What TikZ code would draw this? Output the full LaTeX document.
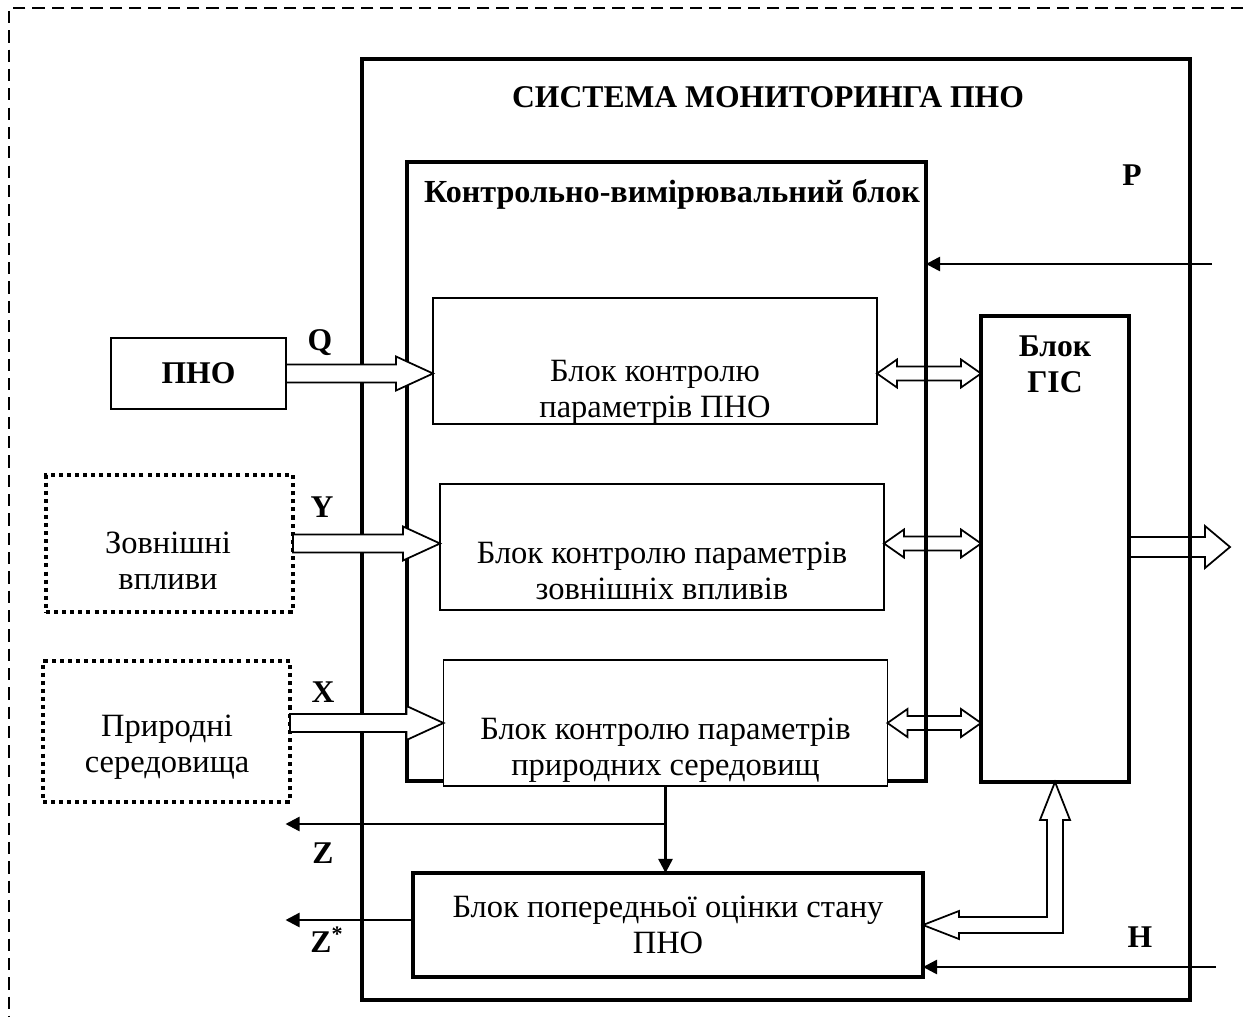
\documentclass[tikz,border=0pt]{standalone}
\usepackage{fontspec}
\setmainfont{Liberation Serif}
\usetikzlibrary{calc,arrows.meta}

% wide hollow arrow pointing right: [style]{from}{to}{head length}{head half}{shaft half}
\newcommand{\fatarrow}[6][fill=white]{%
  \draw[line width=1pt,#1] ($(#2)+(0,-#6)$) -- ($(#3)+(-#4,-#6)$) -- ($(#3)+(-#4,-#5)$) -- (#3)
    -- ($(#3)+(-#4,#5)$) -- ($(#3)+(-#4,#6)$) -- ($(#2)+(0,#6)$) -- cycle;}
% wide hollow arrow with two heads
\newcommand{\dblarrow}[5]{%
  \draw[line width=1pt] (#1) -- ($(#1)+(#3,-#4)$) -- ($(#1)+(#3,-#5)$) -- ($(#2)+(-#3,-#5)$)
    -- ($(#2)+(-#3,-#4)$) -- (#2) -- ($(#2)+(-#3,#4)$) -- ($(#2)+(-#3,#5)$)
    -- ($(#1)+(#3,#5)$) -- ($(#1)+(#3,#4)$) -- cycle;}

\begin{document}
\begin{tikzpicture}[x=0.02cm,y=-0.02cm,
  font=\fontsize{18.5}{20.5}\selectfont,
  thickbox/.style={draw,line width=2pt,inner sep=0pt,outer sep=0pt},
  thinbox/.style={draw,line width=1pt,fill=white,inner sep=0pt,outer sep=0pt},
  dotbox/.style={draw,line width=2.3pt,dash pattern=on 2.3pt off 2.3pt,inner sep=0pt,outer sep=0pt},
  sig/.style={font=\fontsize{18}{20.5}\selectfont\bfseries},
  wire/.style={line width=1.4pt,-{Triangle[length=8pt,width=8pt]}}]
  \useasboundingbox (0,0) rectangle (1243,1017);
  \draw[line width=1.1pt,dash pattern=on 7pt off 4pt] (1243,8) -- (9,8) -- (9,1017);

  % monitoring system and measuring unit
  \node[thickbox,minimum width=16.56cm,minimum height=18.82cm] (sys) at (776,529.5) {};
  \node[font=\fontsize{18}{22}\selectfont\bfseries] (systitle) at (768,97) {СИСТЕМА МОНИТОРИНГА ПНО};
  \node[thickbox,minimum width=10.38cm,minimum height=12.38cm] (kv) at (666.5,471.5) {};
  \node[font=\fontsize{18.3}{20.5}\selectfont\bfseries] (kvtitle) at (672,194) {Контрольно-вимірювальний блок};

  \foreach \n/\x/\y/\ty/\txt in {
    b1/655/361/392/{Блок контролю\\параметрів ПНО},
    b2/662/547/571/{Блок контролю параметрів\\зовнішніх впливів},
    b3/665.5/723/750/{Блок контролю параметрів\\природних середовищ}}
  {
    \node[thinbox,minimum width=8.88cm,minimum height=2.52cm] (\n) at (\x,\y) {};
    \node[align=center] (\n-t) at (\x,\ty) {\txt};
  }

  \node[thickbox,minimum width=2.96cm,minimum height=9.32cm,fill=white] (gis) at (1055,549) {};
  \node[sig,align=center] (gis-t) at (1055,364) {Блок\\ГІС};
  \node[thickbox,minimum width=10.2cm,minimum height=2.08cm,fill=white,align=center] (pre) at (668,925)
    {Блок попередньої оцінки стану\\ПНО};

  % outside objects
  \node[thinbox,minimum width=3.5cm,minimum height=1.42cm,font=\fontsize{18}{22}\selectfont\bfseries] (pno) at (198.5,373.5) {ПНО};
  \node[dotbox,minimum width=4.94cm,minimum height=2.74cm] (zv) at (169.5,543.5) {};
  \node[align=center] (zv-t) at (168,561) {Зовнішні\\впливи};
  \node[dotbox,minimum width=4.94cm,minimum height=2.82cm] (pr) at (166.5,731.5) {};
  \node[align=center] (pr-t) at (167,747) {Природні\\середовища};

  % inputs
  \coordinate (q1) at (b1.west |- pno.east);
  \coordinate (y1) at (b2.west |- zv.east);
  \coordinate (x0) at (pr.east |- b3.west);
  \fatarrow{pno.east}{q1}{37}{17}{9}
  \fatarrow{zv.east}{y1}{37}{17}{9}
  \fatarrow{x0}{b3.west}{37}{17}{9}

  % exchange with GIS
  \coordinate (d1a) at (b1.east |- pno.east);
  \coordinate (d1b) at (gis.west |- pno.east);
  \coordinate (d2a) at (b2.east |- zv.east);
  \coordinate (d2b) at (gis.west |- zv.east);
  \coordinate (d3b) at (gis.west |- b3.east);
  \dblarrow{d1a}{d1b}{20}{14}{7}
  \dblarrow{d2a}{d2b}{20}{14}{7}
  \dblarrow{b3.east}{d3b}{20}{14}{7}
  \coordinate (out) at (1230,547);
  \fatarrow[fill=none]{gis.east |- out}{out}{25}{21}{10}

  % GIS <-> estimation block
  \coordinate (lc) at (gis.south |- pre.east);
  \draw[line width=1pt,fill=white] (pre.east) -- ++(36,-14) -- ++(0,6) -- ($(lc)+(-8,-8)$)
    -- ($(gis.south)+(-8,38)$) -- ++(-7,0) -- (gis.south) -- ++(15,38) -- ++(-7,0)
    -- ($(lc)+(8,8)$) -- ($(pre.east)+(36,8)$) -- ++(0,6) -- cycle;

  % P, H, Z
  \coordinate (pin) at (1212,264);
  \coordinate (hin) at (1216,967);
  \draw[wire] (pin) -- (kv.east |- pin);
  \draw[wire] (hin) -- (pre.east |- hin);
  \coordinate (zj) at ($(b3.south)+(0,38)$);
  \coordinate (zo) at ($(zj)+(-380,0)$);
  \draw[wire] (b3.south) -- (pre.north -| b3.south);
  \draw[wire] (zj) -- (zo);
  \coordinate (zso) at ($(pre.west)+(0,-5)$);
  \draw[wire] (zso) -- (zso -| zo);

  \foreach \n/\x/\y/\t in {lq/320/343/Q, ly/322/507/Y, lx/323/692/X, lz/323/853/Z, lp/1132/175/P, lh/1140/937/H}
    \node[sig] (\n) at (\x,\y) {\t};
  \node[sig] (lzs) at (327,940) {Z\textsuperscript{*}};
\end{tikzpicture}
\end{document}
